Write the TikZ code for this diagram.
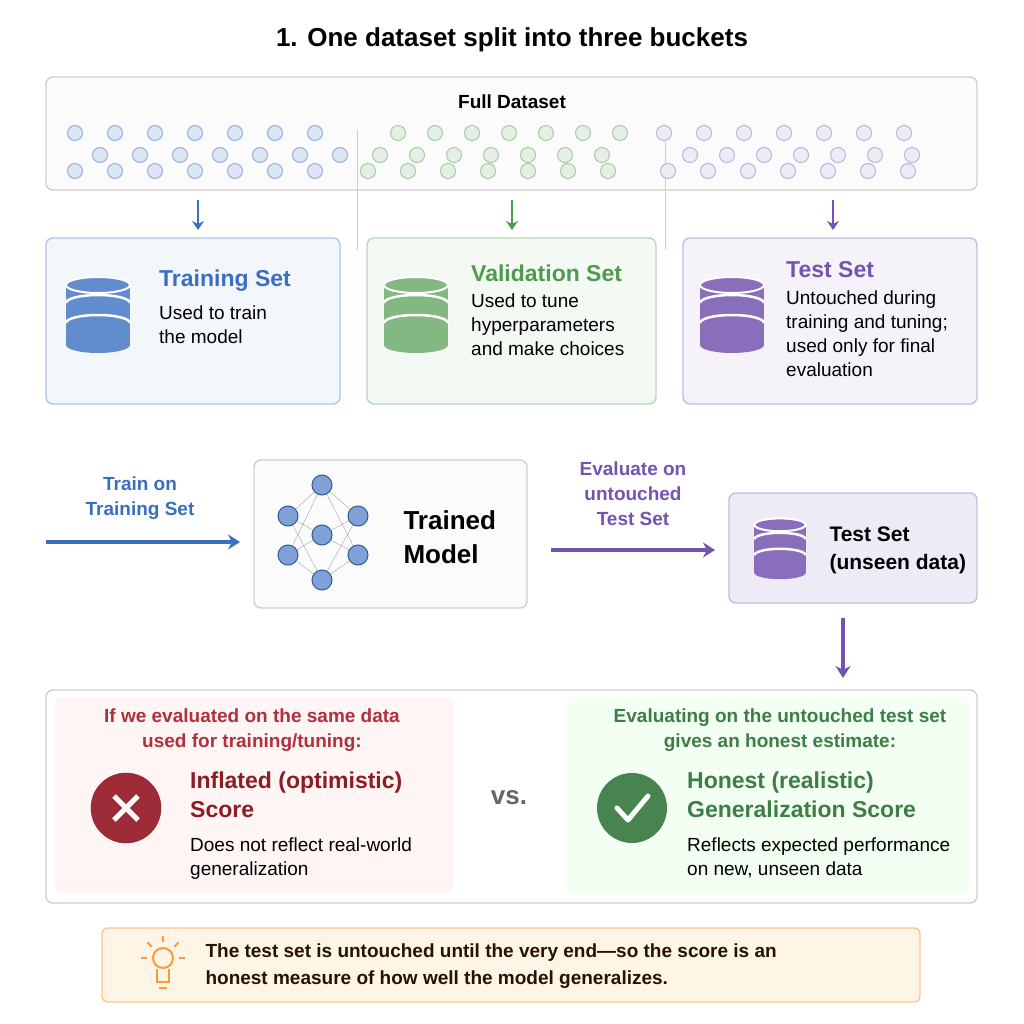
\documentclass[tikz,border=0pt]{standalone}
\usepackage{fontspec}
\setmainfont{Liberation Sans}
\usetikzlibrary{positioning,arrows.meta}
\definecolor{tblue}{HTML}{3A6FC0}
\definecolor{tgreen}{HTML}{4E9A4E}
\definecolor{tpurple}{HTML}{7454B0}
\definecolor{dred}{HTML}{8E1C22}
\definecolor{hred}{HTML}{B0303E}
\definecolor{dgreen}{HTML}{3E7E46}
\definecolor{gline}{HTML}{CFCFCF}
\tikzset{
  panel/.style={draw=gline, line width=1.4pt, rounded corners=7pt},
  txt/.style={font=\fontsize{19}{24}\selectfont, align=left, anchor=west, inner sep=0pt},
  head/.style={font=\bfseries\fontsize{23}{29}\selectfont, align=left, anchor=west, inner sep=0pt},
  lbl/.style={font=\bfseries\fontsize{19}{25}\selectfont, align=center, inner sep=0pt},
  arr/.style={line width=3.5pt, -{Stealth[length=12pt,width=15pt]}},
  darr/.style={line width=2.8pt, -{Stealth[length=9pt,width=12pt]}},
  dot/.style={circle, minimum size=15pt, inner sep=0pt, line width=1pt},
}
% database icon
\newcommand{\dbicon}[3]{%
  \begin{scope}[shift={(#1,#2)}]
    \fill[#3] (-32,-30) rectangle (32,30);
    \fill[#3] (0,30) ellipse (32 and 8);
    \fill[#3] (0,-30) ellipse (32 and 8);
    \draw[white, line width=2.5pt] (-32,-12) arc (180:360:32 and 8);
    \draw[white, line width=2.5pt] (-32,8) arc (180:360:32 and 8);
    \draw[white, line width=2pt] (0,-30) ellipse (32 and 8);
  \end{scope}}
\begin{document}
\begin{tikzpicture}[x=1pt,y=-1pt]
\useasboundingbox (0,0) rectangle (1024,1024);
\fill[white] (0,0) rectangle (1024,1024);
\node[font=\bfseries\fontsize{26}{30}\selectfont] (title) at (512,40) {1. One dataset split into three buckets};
%
\draw[panel, fill=gray!3] (46,77) rectangle (977,190);
\node[lbl] (full) at (512,102) {Full Dataset};
\draw[gline, line width=0.6pt] (357,130) -- (357,250);
\draw[gline, line width=0.6pt] (665,130) -- (665,250);
\foreach \x in {0,...,6} {
  \node[dot, draw=tblue!55, fill=tblue!18] at (75+\x*40,133) {};
  \node[dot, draw=tblue!55, fill=tblue!18] at (100+\x*40,155) {};
  \node[dot, draw=tblue!55, fill=tblue!18] at (75+\x*40,171) {};
  \node[dot, draw=tgreen!50, fill=tgreen!15] at (398+\x*37,133) {};
  \node[dot, draw=tgreen!50, fill=tgreen!15] at (380+\x*37,155) {};
  \node[dot, draw=tgreen!50, fill=tgreen!15] at (368+\x*40,171) {};
  \node[dot, draw=tpurple!45, fill=tpurple!12] at (664+\x*40,133) {};
  \node[dot, draw=tpurple!45, fill=tpurple!12] at (690+\x*37,155) {};
  \node[dot, draw=tpurple!45, fill=tpurple!12] at (668+\x*40,171) {};
}
\coordinate (d1) at (198,200); \coordinate (d2) at (512,200); \coordinate (d3) at (833,200);
%
\draw[panel, draw=tblue!40, fill=tblue!6] (46,238) rectangle (340,404);
\draw[panel, draw=tgreen!40, fill=tgreen!6] (367,238) rectangle (656,404);
\draw[panel, draw=tpurple!40, fill=tpurple!7] (683,238) rectangle (977,404);
\coordinate (b1) at (198,230); \coordinate (b2) at (512,230); \coordinate (b3) at (833,230);
\draw[darr, tblue] (d1) -- (b1);
\draw[darr, tgreen] (d2) -- (b2);
\draw[darr, tpurple] (d3) -- (b3);
\dbicon{98}{315}{tblue!80}
\dbicon{416}{315}{tgreen!70}
\dbicon{732}{315}{tpurple!85}
\node[head, text=tblue] (trainT) at (159,281) {Training Set};
\node[txt, below=14pt of trainT.south west, anchor=north west] (trainD) {Used to train\\the model};
\node[head, text=tgreen] (valT) at (471,273) {Validation Set};
\node[txt, below=12pt of valT.south west, anchor=north west] (valD) {Used to tune\\hyperparameters\\and make choices};
\node[head, text=tpurple] (testT) at (786,270) {Test Set};
\node[txt, below=12pt of testT.south west, anchor=north west] (testD) {Untouched during\\training and tuning;\\used only for final\\evaluation};
%
\draw[panel, fill=gray!3] (254,460) rectangle (527,608);
\coordinate (model) at (254,542);
\coordinate (trainS) at (46,542);
\draw[arr, tblue] (trainS) -- ([xshift=-14pt]model);
\node[lbl, text=tblue] (trainL) at (140,498) {Train on\\Training Set};
\draw[gray!70] (288,516) -- (322,485) (288,516) -- (322,535) (288,516) -- (322,580)
  (288,555) -- (322,485) (288,555) -- (322,535) (288,555) -- (322,580)
  (358,516) -- (322,485) (358,516) -- (322,535) (358,516) -- (322,580)
  (358,555) -- (322,485) (358,555) -- (322,535) (358,555) -- (322,580);
\foreach \n/\x/\y in {a/288/516,b/288/555,c/322/485,d/322/535,e/322/580,f/358/516,g/358/555}
  \node[circle, draw=tblue!80!black, fill=tblue!65, minimum size=20pt, inner sep=0pt, line width=1pt] (n\n) at (\x,\y) {};
\node[font=\bfseries\fontsize{26}{34}\selectfont, align=left, anchor=west] (modelT) at (400,537) {Trained\\Model};
%
\draw[panel, draw=tpurple!40, fill=tpurple!12] (729,493) rectangle (977,603);
\coordinate (evalS) at (551,550); \coordinate (testB) at (715,550);
\draw[arr, tpurple] (evalS) -- (testB);
\node[lbl, text=tpurple] (evalL) at (633,494) {Evaluate on\\untouched\\Test Set};
\begin{scope}[scale=0.8]
\dbicon{975}{686}{tpurple!85}
\end{scope}
\node[font=\bfseries\fontsize{21}{28}\selectfont, align=left, anchor=west] (testS) at (826,550) {Test Set\\(unseen data)};
\coordinate (testU) at (843,618); \coordinate (cmpT) at (843,678);
\draw[arr, tpurple] (testU) -- (cmpT);
%
\draw[panel, fill=white] (46,690) rectangle (977,903);
\fill[red!4, rounded corners=6pt] (55,697) rectangle (453,893);
\fill[green!5, rounded corners=6pt] (565,697) rectangle (970,893);
\node[lbl, text=hred] (badH) at (252,730) {If we evaluated on the same data\\used for training/tuning:};
\node[circle, fill=hred!90!black, draw=dred, minimum size=70pt, inner sep=0pt] (cross) at (126,808) {};
\draw[white, line width=5pt] ([shift={(-12,-12)}]cross.center) -- ([shift={(12,12)}]cross.center);
\draw[white, line width=5pt] ([shift={(-12,12)}]cross.center) -- ([shift={(12,-12)}]cross.center);
\node[head, text=dred, anchor=north west] (badT) at (190,772) {Inflated (optimistic)\\Score};
\node[txt, anchor=north west] (badD) at (190,838) {Does not reflect real-world\\generalization};
\node[font=\bfseries\fontsize{26}{30}\selectfont, text=gray!80!black] (vs) at (509,798) {vs.};
\node[lbl, text=dgreen] (goodH) at (780,730) {Evaluating on the untouched test set\\gives an honest estimate:};
\node[circle, fill=dgreen!95, minimum size=70pt, inner sep=0pt] (check) at (632,808) {};
\draw[white, line width=5pt, line cap=round, line join=round] ([shift={(-15,0)}]check.center) -- ([shift={(-4,12)}]check.center) -- ([shift={(16,-12)}]check.center);
\node[head, text=dgreen, anchor=north west] (goodT) at (687,772) {Honest (realistic)\\Generalization Score};
\node[txt, anchor=north west] (goodD) at (687,838) {Reflects expected performance\\on new, unseen data};
%
\draw[draw=orange!45, fill=yellow!12!orange!8, line width=1.4pt, rounded corners=6pt] (102,928) rectangle (920,1002);
\node[circle, draw=orange!80, line width=2pt, minimum size=20pt, inner sep=0pt] (bulb) at (163,958) {};
\draw[orange!80, line width=2pt] (157,969) -- (157,982) -- (169,982) -- (169,969);
\draw[orange!80, line width=2pt] (159,988) -- (167,988);
\foreach \a in {-90,-135,-45,180,0} \draw[orange!80, line width=2pt] ([shift={(\a:16)}]bulb.center) -- ([shift={(\a:22)}]bulb.center);
\node[font=\bfseries\fontsize{19}{27}\selectfont, text=black!85!orange, align=left, anchor=west] (note) at (202,966) {The test set is untouched until the very end—so the score is an\\honest measure of how well the model generalizes.};
\end{tikzpicture}
\end{document}
